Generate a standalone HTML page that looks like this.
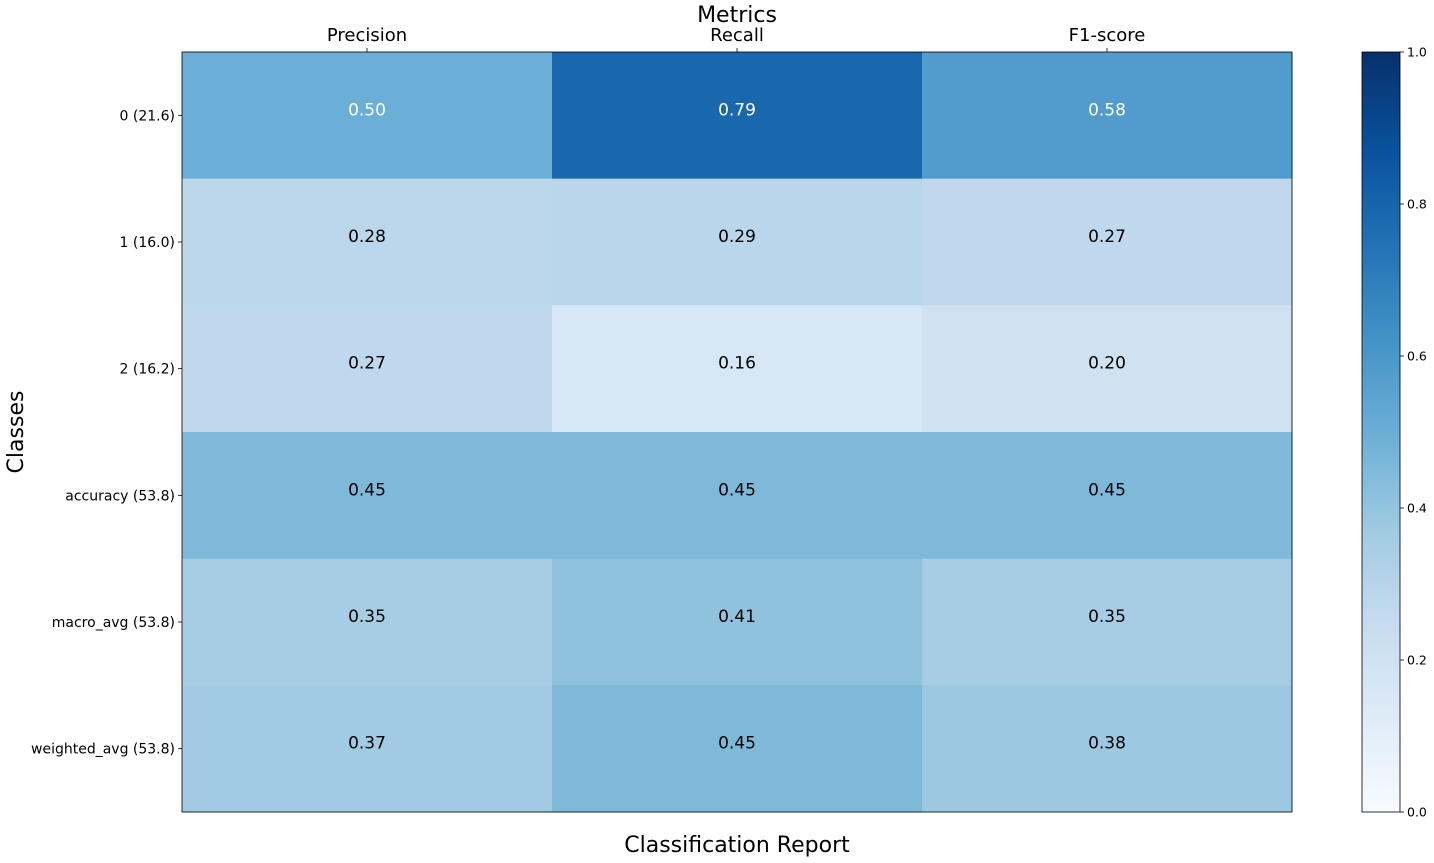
<!DOCTYPE html>
<html><head><meta charset="utf-8"><style>
body{margin:0;background:#fff;}
svg{display:block;font-family:"DejaVu Sans","Liberation Sans",sans-serif;}
</style></head><body>
<svg id="chart" width="1434" height="863">
<rect width="1434" height="863" fill="#fff"/>
<g id="cells"></g>
<g id="axes"></g>
<defs><linearGradient id="cbgrad" x1="0" y1="1" x2="0" y2="0"></linearGradient></defs>
<g id="cbar"></g>
<text x="737" y="22" font-size="22" text-anchor="middle">Metrics</text>
<text x="737" y="852" font-size="22" text-anchor="middle">Classification Report</text>
<text transform="translate(23,432) rotate(-90)" font-size="22" text-anchor="middle">Classes</text>
</svg>
<script>
const metrics = ["Precision","Recall","F1-score"];
const classes = ["0 (21.6)","1 (16.0)","2 (16.2)","accuracy (53.8)","macro_avg (53.8)","weighted_avg (53.8)"];
const precision = [0.50,0.28,0.27,0.45,0.35,0.37];
const recall = [0.79,0.29,0.16,0.45,0.41,0.45];
const f1 = [0.58,0.27,0.20,0.45,0.35,0.38];
const cbTicks = [0,0.2,0.4,0.6,0.8,1.0];

const NS="http://www.w3.org/2000/svg";
const X0=182,X1=1292,Y0=52,Y1=812;
const stops=["#f7fbff","#deebf7","#c6dbef","#9ecae1","#6baed6","#4292c6","#2171b5","#08519c","#08306b"];
function hex(h){return [1,3,5].map(i=>parseInt(h.substr(i,2),16));}
function blues(v){v=Math.max(0,Math.min(1,v));const t=v*8,i=Math.min(7,Math.floor(t)),f=t-i;
 const a=hex(stops[i]),b=hex(stops[i+1]);return "rgb("+a.map((c,k)=>Math.round(c+(b[k]-c)*f)).join(",")+")";}
function el(tag,attrs,parent){const e=document.createElementNS(NS,tag);for(const k in attrs)e.setAttribute(k,attrs[k]);parent.appendChild(e);return e;}
const cw=(X1-X0)/metrics.length, rh=(Y1-Y0)/classes.length;
const xc=j=>X0+cw*(j+0.5), yc=i=>Y0+rh*(i+0.5);
const series=[precision,recall,f1];
const cells=document.getElementById('cells'), axes=document.getElementById('axes');
series.forEach((s,j)=>s.forEach((v,i)=>{
 const r=el('rect',{x:X0+cw*j,y:Y0+rh*i,width:cw+0.5,height:rh+0.5,fill:blues(v)},cells);
 
 
 const t=el('text',{x:xc(j),y:yc(i)-5,'font-size':17,'text-anchor':'middle','dominant-baseline':'middle',fill:v>=0.5?'#fff':'#000'},cells);
 t.textContent=v.toFixed(2);
 
 
}));
el('rect',{x:X0,y:Y0,width:X1-X0,height:Y1-Y0,fill:'none',stroke:'#000','stroke-width':0.8},axes);
metrics.forEach((m,j)=>{
 el('line',{x1:xc(j),x2:xc(j),y1:Y0,y2:Y0-4,stroke:'#000','stroke-width':0.8},axes);
 const t=el('text',{x:xc(j),y:41,'font-size':18,'text-anchor':'middle'},axes);
 t.textContent=m;
 
 
});
classes.forEach((c,i)=>{
 el('line',{x1:X0,x2:X0-4,y1:yc(i),y2:yc(i),stroke:'#000','stroke-width':0.8},axes);
 const t=el('text',{x:175,y:yc(i)+5,'font-size':14,'text-anchor':'end'},axes);
 t.textContent=c;
 
 
});
const g=document.getElementById('cbgrad');
stops.forEach((s,k)=>el('stop',{offset:(k/8),'stop-color':s},g));
const cb=document.getElementById('cbar');
const CX=1362,CW=38;
el('rect',{x:CX,y:Y0,width:CW,height:Y1-Y0,fill:'url(#cbgrad)',stroke:'#000','stroke-width':0.8},cb);
cbTicks.forEach(v=>{
 const y=Y1-(Y1-Y0)*v;
 el('line',{x1:CX+CW,x2:CX+CW+4,y1:y,y2:y,stroke:'#000','stroke-width':0.8},cb);
 const t=el('text',{x:CX+CW+7,y:y+4.5,'font-size':12.5},cb);
 t.textContent=v.toFixed(1);
 
 
});
</script>
</body></html>
